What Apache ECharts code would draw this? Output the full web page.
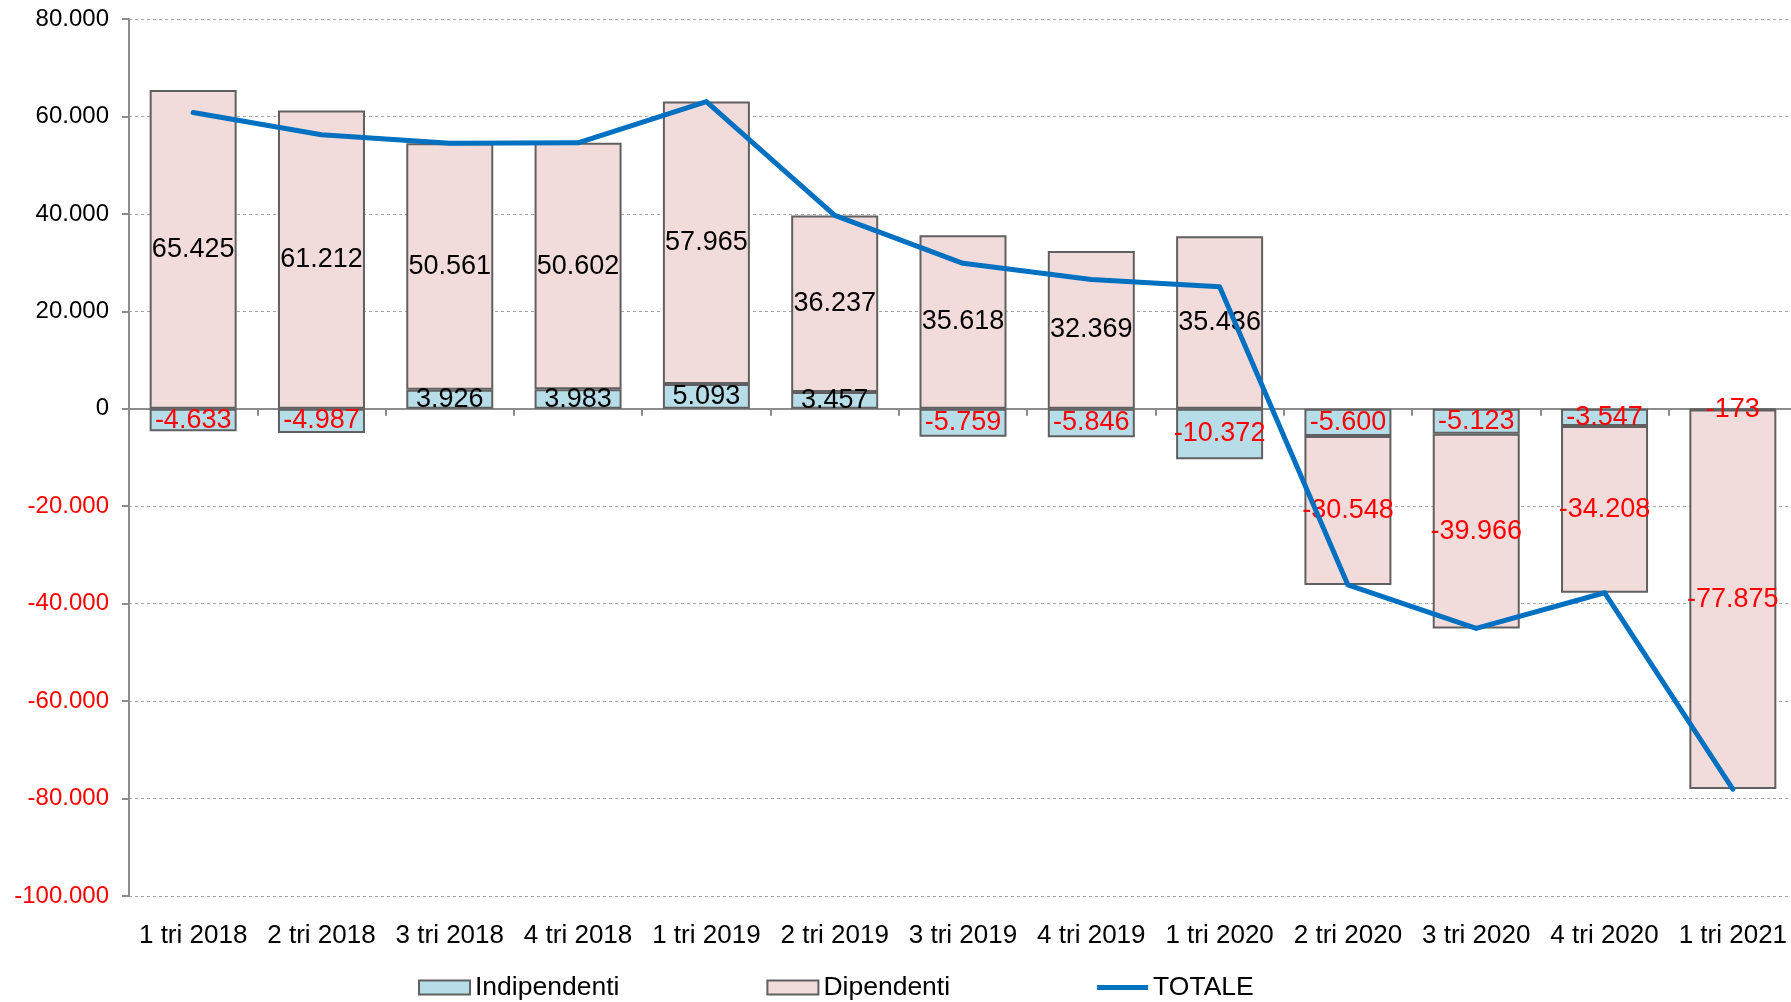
<!DOCTYPE html>
<html>
<head>
<meta charset="utf-8">
<title>Indipendenti / Dipendenti</title>
<script src="https://cdn.jsdelivr.net/npm/echarts@6/dist/echarts.min.js"></script>
<style>
	html, body { margin: 0; padding: 0; background: #fff; overflow: hidden; }
	/* l'area del grafico sborda leggermente a destra come nell'originale */
	#chart { width: 1797px; height: 1002px; }
</style>
</head>
<body>
<div id="chart"></div>
<script>
//trimestri
var categories = ['1 tri 2018', '2 tri 2018', '3 tri 2018', '4 tri 2018', '1 tri 2019', '2 tri 2019', '3 tri 2019',
	'4 tri 2019', '1 tri 2020', '2 tri 2020', '3 tri 2020', '4 tri 2020', '1 tri 2021'];
var indipendenti = [-4633, -4987, 3926, 3983, 5093, 3457, -5759, -5846, -10372, -5600, -5123, -3547, -173];
var dipendenti = [65425, 61212, 50561, 50602, 57965, 36237, 35618, 32369, 35436, -30548, -39966, -34208, -77875];
var totale = [60792, 56225, 54487, 54585, 63058, 39694, 29859, 26523, 25064, -36148, -45089, -37755, -78048];
var yTicks = { min: -100000, max: 80000, step: 20000 };

var FONT = '"Liberation Sans", Arial, sans-serif';

//numero con punto delle migliaia
function fmt(v) {
	var s = String(Math.abs(Math.round(v))).replace(/\B(?=(\d{3})+(?!\d))/g, '.');
	return (v < 0 ? '-' : '') + s;
}

function barLabel() {
	return {
		show: true,
		position: 'inside',
		fontFamily: FONT,
		fontSize: 27,
		formatter: function(p) {
			return (p.value < 0 ? '{neg|' : '{pos|') + fmt(p.value) + '}';
		},
		rich: {
			pos: { color: '#000', fontSize: 27, fontFamily: FONT },
			neg: { color: '#ff0000', fontSize: 27, fontFamily: FONT }
		}
	};
}

var chart = echarts.init(document.getElementById('chart'));
var option = {
	animation: false,
	backgroundColor: '#fff',
	grid: {
		left: 129,
		top: 19,
		right: 0,
		height: 877
	},
	legend: {
		left: 418,
		top: 974,
		padding: 0,
		itemWidth: 51,
		itemHeight: 14,
		itemGap: 147,
		textStyle: { fontFamily: FONT, fontSize: 26.5, color: '#000' },
		data: [
			{ name: 'Indipendenti', icon: 'rect' },
			{ name: 'Dipendenti', icon: 'rect' },
			{ name: 'TOTALE', icon: 'path://M0,0 L51,0 L51,5 L0,5 Z', itemStyle: { color: '#0070c0', borderWidth: 0 } }
		]
	},
	xAxis: [{
		type: 'category',
		data: categories,
		axisLine: { show: false, onZero: false },
		axisTick: { show: false },
		axisLabel: { fontFamily: FONT, fontSize: 26, color: '#000', margin: 27, interval: 0 }
	}, {
		//linea dello zero con le tacche
		type: 'category',
		data: categories,
		position: 'bottom',
		axisLine: { show: true, onZero: true, lineStyle: { color: '#8c8c8c', width: 2 } },
		axisTick: { show: true, length: 7, lineStyle: { color: '#8c8c8c', width: 2 } },
		axisLabel: { show: false }
	}],
	yAxis: [{
		type: 'value',
		min: yTicks.min,
		max: yTicks.max,
		interval: yTicks.step,
		axisLine: { show: true, lineStyle: { color: '#8c8c8c', width: 2 } },
		axisTick: { show: true, length: 7, lineStyle: { color: '#8c8c8c', width: 2 } },
		splitLine: { lineStyle: { color: '#a6a6a6', type: [3, 3], width: 1 } },
		axisLabel: {
			fontFamily: FONT,
			fontSize: 24,
			margin: 20,
			formatter: function(v) { return fmt(v); },
			color: function(v) { return v < 0 ? '#ff0000' : '#000'; }
		}
	}],
	series: [{
		name: 'Indipendenti',
		type: 'bar',
		stack: 'tot',
		barWidth: 87,
		itemStyle: { color: '#b7dee8', borderColor: '#606060', borderWidth: 2 },
		label: barLabel(),
		data: indipendenti
	}, {
		name: 'Dipendenti',
		type: 'bar',
		stack: 'tot',
		barWidth: 87,
		itemStyle: { color: '#f2dcdb', borderColor: '#606060', borderWidth: 2 },
		label: barLabel(),
		data: dipendenti
	}, {
		name: 'TOTALE',
		type: 'line',
		z: 5,
		symbol: 'none',
		lineStyle: { color: '#0070c0', width: 5, cap: 'round', join: 'round' },
		itemStyle: { color: '#0070c0' },
		data: totale
	}]
};
chart.setOption(option);
</script>
</body>
</html>
